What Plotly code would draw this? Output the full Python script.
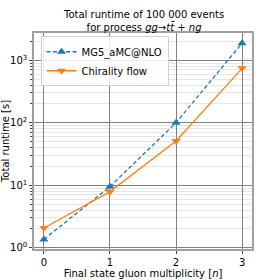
import plotly.graph_objects as go

n_gluons = [0, 1, 2, 3]
mg5_runtime = [1.36, 9.5, 100, 1870]
chirality_runtime = [2.07, 7.9, 51, 740]
y_tickvals = [1, 10, 100, 1000]
y_ticktext = ["10<sup>0</sup>", "10<sup>1</sup>", "10<sup>2</sup>", "10<sup>3</sup>"]
x_tickvals = [0, 1, 2, 3]
minor_mult = [2, 3, 4, 5, 6, 7, 8, 9]
y_minor = [m * d for d in [1, 10, 100, 1000] for m in minor_mult]
title_text = "Total runtime of 100 000 events<br>for process <i>gg</i>→<i>tt̄</i> + <i>ng</i>"

font = "DejaVu Sans"
fig = go.Figure()
fig.add_trace(go.Scatter(x=n_gluons, y=mg5_runtime, mode="lines+markers", name="MG5_aMC@NLO",
                         line=dict(color="#1f77b4", width=1.3, dash="4px,2.5px"),
                         marker=dict(symbol="triangle-up", size=8, color="#1f77b4")))
fig.add_trace(go.Scatter(x=n_gluons, y=chirality_runtime, mode="lines+markers", name="Chirality flow",
                         line=dict(color="#ff7f0e", width=1.3),
                         marker=dict(symbol="triangle-down", size=8, color="#ff7f0e")))

fig.update_layout(
    width=280, height=280,
    margin=dict(l=34, r=28, t=33, b=31),
    paper_bgcolor="white", plot_bgcolor="white",
    font=dict(family=font, size=10, color="black"),
    showlegend=True,
    legend=dict(x=0.03, y=0.985, xanchor="left", yanchor="top", bgcolor="rgba(255,255,255,0.85)",
                bordercolor="#d0d0d0", borderwidth=1, font=dict(size=10),
                tracegroupgap=0, itemwidth=30),
    annotations=[dict(text=title_text, x=0.5, y=1.0, xref="paper", yref="paper",
                      xanchor="center", yanchor="bottom", yshift=-2, showarrow=False,
                      font=dict(size=10))],
)
fig.update_xaxes(range=[-0.15, 3.15], tickvals=x_tickvals, ticks="outside", ticklen=3,
                 showgrid=True, gridcolor="#808080", gridwidth=1, automargin=False,
                 showline=True, linecolor="#a0a0a0", linewidth=1.5, mirror=True, zeroline=False,
                 title=dict(text="Final state gluon multiplicity [<i>n</i>]", standoff=2, font=dict(size=10)))
fig.update_yaxes(type="log", range=[-0.02, 3.435], tickvals=y_tickvals, ticktext=y_ticktext,
                 ticks="outside", ticklen=3, automargin=False,
                 showgrid=True, gridcolor="#808080", gridwidth=1,
                 minor=dict(tickvals=y_minor, showgrid=True, gridcolor="#e6e6e6", ticks="outside", ticklen=2),
                 showline=True, linecolor="#a0a0a0", linewidth=1.5, mirror=True, zeroline=False,
                 title=dict(text="Total runtime [s]", standoff=2, font=dict(size=10)))
fig.write_html("out.html", config={"displayModeBar": False},
               post_script="document.body.style.margin='0px';document.body.style.overflow='hidden';")
